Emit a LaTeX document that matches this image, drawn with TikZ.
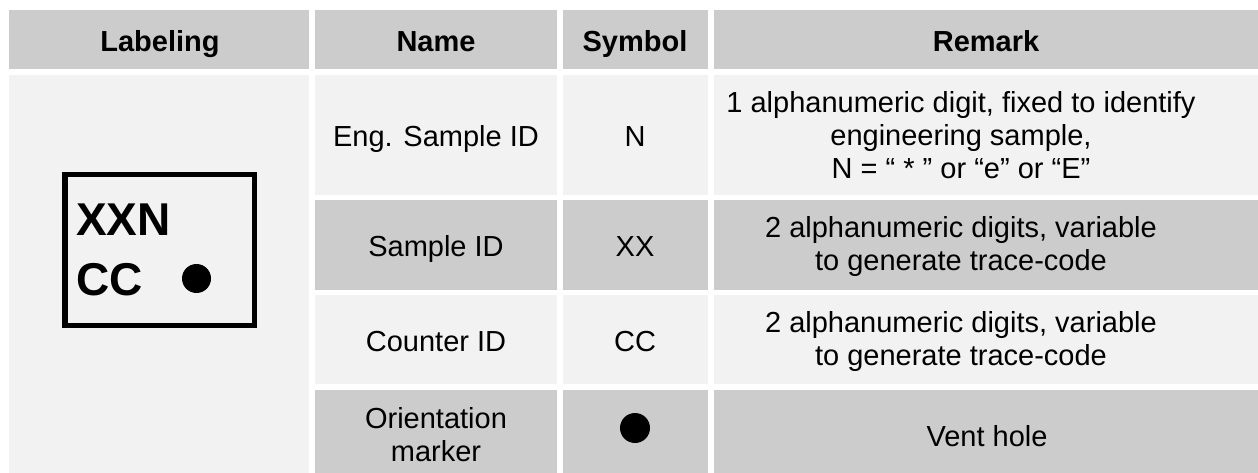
\documentclass[tikz,border=0pt]{standalone}
\usepackage{fontspec}
\setmainfont{Liberation Sans}
\definecolor{cellgray}{HTML}{CCCCCC}
\definecolor{celllight}{HTML}{F2F2F2}
\tikzset{
  darkcell/.style={fill=cellgray},
  lightcell/.style={fill=celllight},
  hdrtext/.style={font=\fontsize{29}{33}\selectfont\bfseries, inner sep=0pt, anchor=base},
  bodytext/.style={font=\fontsize{29}{33}\selectfont, inner sep=0pt, anchor=base},
  multitext/.style={font=\fontsize{29}{33}\selectfont, inner sep=0pt, align=center},
  marktext/.style={font=\fontsize{46}{58}\selectfont\bfseries, inner sep=0pt, anchor=base west},
}
\begin{document}
\begin{tikzpicture}[x=1pt,y=-1pt]
\useasboundingbox (0,0) rectangle (1258,473);
\fill[white] (0,0) rectangle (1258,473);
% header row
\fill[darkcell] (9,10) rectangle (309,69);
\fill[darkcell] (315,10) rectangle (557,69);
\fill[darkcell] (563,10) rectangle (708,69);
\fill[darkcell] (714,10) rectangle (1258,69);
% labeling column (merged)
\fill[lightcell] (9,75) rectangle (309,473);
% row 1
\fill[lightcell] (315,75) rectangle (557,195);
\fill[lightcell] (563,75) rectangle (708,195);
\fill[lightcell] (714,75) rectangle (1258,195);
% row 2
\fill[darkcell] (315,200) rectangle (557,290);
\fill[darkcell] (563,200) rectangle (708,290);
\fill[darkcell] (714,200) rectangle (1258,290);
% row 3
\fill[lightcell] (315,295) rectangle (557,384);
\fill[lightcell] (563,295) rectangle (708,384);
\fill[lightcell] (714,295) rectangle (1258,384);
% row 4
\fill[darkcell] (315,390) rectangle (557,473);
\fill[darkcell] (563,390) rectangle (708,473);
\fill[darkcell] (714,390) rectangle (1258,473);

% header texts
\node[hdrtext] (hlab) at (160,52) {Labeling};
\node[hdrtext] (hname) at (436,52) {Name};
\node[hdrtext] (hsym) at (635,52) {Symbol};
\node[hdrtext] (hrem) at (986,52) {Remark};

% labeling marker box
\draw[line width=5.5pt] (64.75,174.75) rectangle (254.25,325.25);
\node[marktext] (xxn) at (76,236) {XXN};
\node[marktext] (cc) at (76,295) {CC};
\fill (196.5,278.5) circle[radius=14.5];

% row 1
\node[bodytext] (n1) at (436,147) {Eng. Sample ID};
\node[bodytext] (s1) at (635,147) {N};
\node[multitext] (r1) at (961,135) {1 alphanumeric digit, fixed to identify\\engineering sample,\\N = “ * ” or “e” or “E”};
% row 2
\node[bodytext] (n2) at (436,256) {Sample ID};
\node[bodytext] (s2) at (635,256) {XX};
\node[multitext] (r2) at (961,247) {2 alphanumeric digits, variable\\to generate trace-code};
% row 3
\node[bodytext] (n3) at (436,351) {Counter ID};
\node[bodytext] (s3) at (635,351) {CC};
\node[multitext] (r3) at (961,342) {2 alphanumeric digits, variable\\to generate trace-code};
% row 4
\node[multitext] (n4) at (436,434.5) {Orientation\\marker};
\fill (635,428) circle[radius=15];
\node[bodytext] (r4) at (987,446) {Vent hole};
\end{tikzpicture}
\end{document}
